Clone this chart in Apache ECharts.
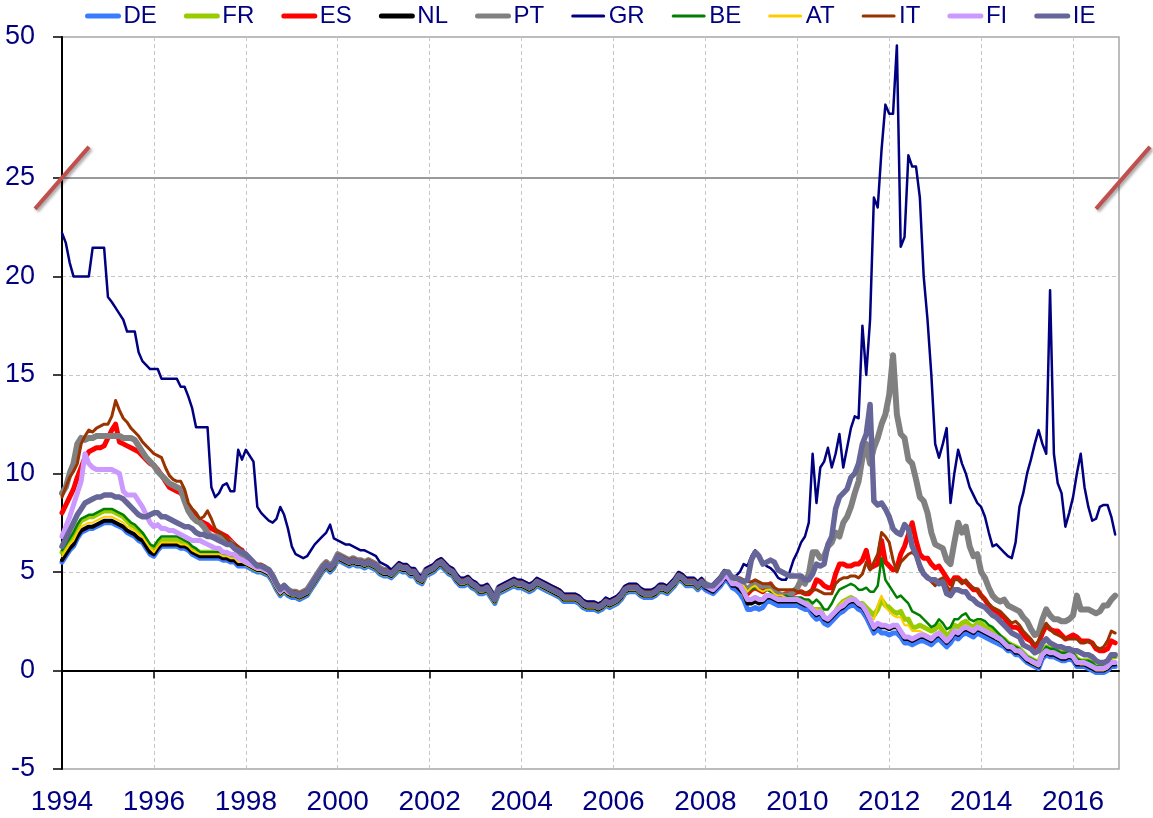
<!DOCTYPE html>
<html><head><meta charset="utf-8">
<script src="https://cdn.jsdelivr.net/npm/echarts@6/dist/echarts.min.js"></script>
<style>html,body{margin:0;padding:0;background:#fff}#c{width:1153px;height:818px}</style>
</head><body><div id="c"></div>
<script>
// ---------------- DATA (monthly, Jan 1994 .. Dec 2016) ----------------
const START_YEAR = 1994;
const xTickLabels = [1994,1996,1998,2000,2002,2004,2006,2008,2010,2012,2014,2016];
const yTickLabels = [-5,0,5,10,15,20,25,50];
const seriesNames = ['DE','FR','ES','NL','PT','GR','BE','AT','IT','FI','IE'];

const DE = [
5.5,5.8,6.1,6.3,6.7,7.0,7.1,7.2,7.2,7.3,7.4,7.5,
7.5,7.5,7.4,7.3,7.2,7.0,6.9,6.8,6.6,6.5,6.2,5.9,
5.8,6.1,6.3,6.3,6.3,6.3,6.3,6.2,6.2,6.1,5.9,5.8,
5.7,5.7,5.7,5.7,5.7,5.7,5.6,5.6,5.5,5.5,5.3,5.3,
5.3,5.2,5.1,5.0,5.0,4.9,4.8,4.5,4.1,3.8,4.0,3.8,
3.7,3.7,3.6,3.7,3.8,4.1,4.4,4.7,5.0,5.2,5.0,5.2,
5.6,5.5,5.4,5.3,5.4,5.3,5.3,5.2,5.3,5.2,5.1,4.9,
4.8,4.8,4.7,4.9,5.1,5.0,5.0,4.8,4.8,4.5,4.4,4.8,
4.9,5.0,5.2,5.3,5.1,4.9,4.8,4.5,4.3,4.3,4.4,4.2,
4.1,3.9,3.9,4.0,3.7,3.4,3.9,4.0,4.1,4.2,4.3,4.2,
4.2,4.1,4.0,4.1,4.3,4.2,4.1,4.0,3.9,3.8,3.7,3.5,
3.5,3.5,3.5,3.4,3.2,3.1,3.1,3.1,3.0,3.1,3.3,3.2,
3.3,3.4,3.6,3.9,4.0,4.0,4.0,3.8,3.7,3.7,3.7,3.8,
4.0,4.0,3.9,4.1,4.3,4.6,4.5,4.3,4.3,4.3,4.1,4.3,
4.1,4.0,3.9,4.1,4.3,4.6,4.5,4.2,4.1,3.9,3.6,3.1,
3.1,3.2,3.1,3.2,3.5,3.5,3.4,3.3,3.3,3.3,3.3,3.3,
3.3,3.2,3.1,3.1,2.8,2.6,2.7,2.4,2.3,2.5,2.7,2.9,
3.0,3.2,3.3,3.3,3.1,3.0,2.7,2.3,1.9,2.1,1.9,1.9,
1.8,1.9,1.9,1.7,1.4,1.4,1.3,1.4,1.5,1.5,1.4,1.3,
1.5,1.6,1.4,1.2,1.4,1.7,1.6,1.8,1.9,1.8,1.7,1.9,
1.8,1.7,1.6,1.5,1.4,1.3,1.2,1.0,1.0,0.8,0.8,0.6,
0.4,0.3,0.2,0.1,0.6,0.8,0.7,0.7,0.6,0.5,0.5,0.6,
0.5,0.2,0.2,0.2,0.1,0.0,-0.1,-0.1,-0.1,0.0,0.2,0.2];

const FR = [
6.0,6.3,6.6,6.9,7.3,7.6,7.7,7.8,7.8,7.9,8.0,8.1,
8.1,8.1,8.0,7.9,7.8,7.6,7.4,7.3,7.1,6.9,6.6,6.3,
6.1,6.4,6.6,6.6,6.6,6.6,6.6,6.5,6.5,6.4,6.2,6.1,
6.0,6.0,6.0,6.0,6.0,6.0,5.9,5.9,5.7,5.7,5.5,5.5,
5.4,5.3,5.2,5.1,5.1,5.0,4.9,4.6,4.2,3.9,4.1,3.9,
3.8,3.8,3.7,3.8,3.9,4.2,4.5,4.8,5.1,5.3,5.1,5.3,
5.7,5.6,5.5,5.4,5.5,5.4,5.4,5.3,5.4,5.3,5.2,5.0,
4.9,4.9,4.8,5.0,5.2,5.1,5.1,4.9,4.9,4.6,4.5,4.9,
5.0,5.1,5.3,5.4,5.2,5.0,4.9,4.6,4.4,4.4,4.5,4.3,
4.2,4.0,4.0,4.1,3.8,3.5,4.0,4.1,4.2,4.3,4.4,4.3,
4.3,4.2,4.1,4.2,4.4,4.3,4.2,4.1,4.0,3.9,3.8,3.6,
3.6,3.6,3.6,3.5,3.3,3.2,3.2,3.2,3.1,3.2,3.4,3.3,
3.4,3.5,3.7,4.0,4.1,4.1,4.1,3.9,3.8,3.8,3.8,3.9,
4.1,4.1,4.0,4.2,4.4,4.7,4.6,4.4,4.4,4.4,4.2,4.4,
4.3,4.2,4.1,4.3,4.5,4.8,4.7,4.4,4.4,4.3,3.9,3.5,
3.6,3.7,3.6,3.6,3.8,3.8,3.7,3.6,3.6,3.6,3.6,3.6,
3.5,3.5,3.4,3.4,3.1,3.1,3.1,2.7,2.6,2.8,3.0,3.3,
3.5,3.6,3.7,3.6,3.4,3.4,3.2,3.0,2.8,3.1,3.6,3.3,
3.2,3.0,2.9,3.0,2.6,2.6,2.2,2.2,2.3,2.2,2.1,2.0,
2.1,2.3,2.0,1.8,1.9,2.3,2.2,2.4,2.5,2.3,2.2,2.4,
2.4,2.2,2.1,2.0,1.8,1.7,1.6,1.4,1.3,1.2,1.1,0.9,
0.7,0.6,0.5,0.4,0.9,1.2,1.1,1.1,1.0,0.9,0.9,1.0,
0.9,0.6,0.5,0.5,0.5,0.4,0.2,0.2,0.2,0.3,0.7,0.7];

const ES = [
8.0,8.4,8.8,9.2,9.8,10.3,10.8,11.1,11.2,11.3,11.3,11.4,
11.8,12.2,12.5,11.6,11.5,11.4,11.3,11.2,11.1,10.9,10.7,10.5,
10.4,10.2,9.9,9.6,9.3,9.2,9.1,9.0,8.8,8.2,8.0,7.8,
7.6,7.5,7.4,7.2,7.1,7.0,6.9,6.8,6.6,6.4,6.2,6.1,
5.8,5.6,5.4,5.3,5.3,5.2,5.1,4.8,4.4,4.1,4.3,4.1,
3.9,3.9,3.8,3.9,4.0,4.3,4.6,4.9,5.2,5.4,5.2,5.4,
5.8,5.7,5.6,5.5,5.6,5.5,5.5,5.4,5.5,5.4,5.3,5.1,
5.0,5.0,4.9,5.1,5.3,5.2,5.2,5.0,5.0,4.7,4.6,5.0,
5.1,5.2,5.4,5.5,5.3,5.1,5.0,4.7,4.5,4.5,4.6,4.4,
4.3,4.1,4.1,4.2,3.9,3.6,4.1,4.2,4.3,4.4,4.5,4.4,
4.4,4.3,4.2,4.3,4.5,4.4,4.3,4.2,4.1,4.0,3.9,3.7,
3.7,3.7,3.7,3.6,3.4,3.3,3.3,3.3,3.2,3.3,3.5,3.4,
3.5,3.6,3.8,4.1,4.2,4.2,4.2,4.0,3.9,3.9,3.9,4.0,
4.2,4.2,4.1,4.3,4.5,4.8,4.7,4.5,4.5,4.5,4.3,4.5,
4.3,4.2,4.2,4.4,4.6,4.9,4.8,4.6,4.6,4.5,4.1,3.9,
4.1,4.2,4.1,4.0,4.2,4.4,4.1,3.9,3.8,3.9,3.9,3.9,
4.0,4.0,3.9,3.9,4.1,4.6,4.5,4.3,4.2,4.2,4.9,5.4,
5.4,5.3,5.3,5.4,5.4,5.6,6.1,5.2,5.3,5.4,6.6,5.5,
5.3,5.1,5.2,5.9,6.3,6.9,7.5,6.6,5.9,5.7,5.7,5.4,
5.2,5.3,5.0,4.7,4.4,4.7,4.7,4.5,4.5,4.3,4.1,4.1,
3.8,3.6,3.3,3.1,3.0,2.8,2.7,2.4,2.2,2.2,2.1,1.8,
1.6,1.5,1.2,1.4,1.9,2.3,2.1,2.0,2.0,1.8,1.6,1.7,
1.8,1.7,1.5,1.5,1.5,1.4,1.1,1.0,1.0,1.1,1.5,1.4];

const NL = [
5.6,5.9,6.2,6.4,6.8,7.1,7.2,7.3,7.3,7.4,7.5,7.6,
7.6,7.6,7.5,7.4,7.3,7.1,7.0,6.9,6.7,6.6,6.3,6.0,
5.9,6.2,6.4,6.4,6.4,6.4,6.4,6.3,6.3,6.2,6.0,5.9,
5.8,5.8,5.8,5.8,5.8,5.8,5.7,5.7,5.6,5.6,5.4,5.4,
5.4,5.3,5.2,5.1,5.1,5.0,4.9,4.6,4.2,3.9,4.1,3.9,
3.8,3.8,3.7,3.8,3.9,4.2,4.5,4.8,5.1,5.3,5.1,5.3,
5.7,5.6,5.5,5.4,5.5,5.4,5.4,5.3,5.4,5.3,5.2,5.0,
4.9,4.9,4.8,5.0,5.2,5.1,5.1,4.9,4.9,4.6,4.5,4.9,
5.0,5.1,5.3,5.4,5.2,5.0,4.9,4.6,4.4,4.4,4.5,4.3,
4.2,4.0,4.0,4.1,3.8,3.5,4.0,4.1,4.2,4.3,4.4,4.3,
4.3,4.2,4.1,4.2,4.4,4.3,4.2,4.1,4.0,3.9,3.8,3.6,
3.6,3.6,3.6,3.5,3.3,3.2,3.2,3.2,3.1,3.2,3.4,3.3,
3.4,3.5,3.7,4.0,4.1,4.1,4.1,3.9,3.8,3.8,3.8,3.9,
4.1,4.1,4.0,4.2,4.4,4.7,4.6,4.4,4.4,4.4,4.2,4.4,
4.2,4.1,4.0,4.2,4.4,4.7,4.6,4.3,4.3,4.1,3.9,3.4,
3.4,3.5,3.4,3.5,3.7,3.7,3.6,3.5,3.5,3.5,3.5,3.5,
3.5,3.4,3.3,3.3,3.0,2.8,2.9,2.6,2.5,2.7,2.9,3.1,
3.2,3.4,3.5,3.5,3.3,3.2,2.9,2.5,2.1,2.3,2.2,2.2,
2.1,2.2,2.2,1.9,1.6,1.6,1.5,1.6,1.7,1.7,1.6,1.5,
1.7,1.8,1.6,1.4,1.6,1.9,1.8,2.0,2.1,2.0,1.9,2.1,
2.0,1.9,1.8,1.7,1.6,1.5,1.3,1.1,1.1,0.9,0.9,0.7,
0.5,0.4,0.3,0.2,0.7,0.9,0.8,0.8,0.7,0.6,0.6,0.7,
0.6,0.3,0.3,0.3,0.2,0.1,0.0,0.0,0.0,0.1,0.3,0.3];

const PT = [
9.0,9.3,10.0,10.5,11.5,11.8,11.7,11.8,11.8,11.9,11.9,11.9,
11.9,11.9,11.9,11.9,11.8,11.8,11.8,11.7,11.4,11.1,10.8,10.6,
10.4,10.1,9.9,9.7,9.5,9.4,9.3,9.2,8.6,8.1,7.8,7.6,
7.5,7.3,7.0,6.8,6.8,6.8,6.7,6.6,6.5,6.3,6.0,5.9,
5.8,5.6,5.4,5.3,5.3,5.2,5.1,4.8,4.4,4.1,4.3,4.1,
4.0,4.0,3.9,4.0,4.1,4.4,4.7,5.0,5.3,5.5,5.3,5.5,
5.9,5.8,5.7,5.6,5.7,5.6,5.6,5.5,5.6,5.5,5.4,5.2,
5.1,5.1,5.0,5.2,5.4,5.3,5.3,5.1,5.1,4.8,4.7,5.1,
5.2,5.3,5.5,5.6,5.4,5.2,5.1,4.8,4.6,4.6,4.7,4.5,
4.4,4.2,4.2,4.3,4.0,3.7,4.2,4.3,4.4,4.5,4.6,4.5,
4.5,4.4,4.3,4.4,4.6,4.5,4.4,4.3,4.2,4.1,4.0,3.8,
3.8,3.8,3.8,3.7,3.5,3.4,3.4,3.4,3.3,3.4,3.6,3.5,
3.6,3.7,3.9,4.2,4.3,4.3,4.3,4.1,4.0,4.0,4.0,4.1,
4.3,4.3,4.2,4.4,4.6,4.9,4.8,4.6,4.6,4.6,4.4,4.6,
4.4,4.3,4.3,4.5,4.7,5.0,4.9,4.6,4.6,4.5,4.3,4.1,
4.3,4.4,4.3,4.3,4.3,4.3,4.1,3.9,3.8,3.8,3.8,4.0,
4.2,4.6,4.4,4.9,6.0,6.0,5.7,5.8,6.3,6.5,7.0,6.8,
7.5,7.8,8.3,9.0,9.6,10.8,11.5,10.5,11.3,11.8,12.5,13.0,
14.0,16.0,13.0,12.0,11.8,10.7,10.5,9.7,8.8,8.6,8.0,7.0,
6.4,6.3,6.2,5.6,5.4,6.5,7.5,7.0,7.3,6.3,5.8,5.9,
5.0,4.7,4.2,3.8,3.6,3.5,3.6,3.3,3.2,3.1,3.0,2.7,
2.5,2.1,1.8,1.9,2.6,3.1,2.8,2.6,2.6,2.5,2.5,2.6,
2.8,3.8,3.1,3.1,3.1,3.0,2.9,3.0,3.3,3.3,3.6,3.8];

const GR = [
22.2,21.7,20.7,20.0,20.0,20.0,20.0,20.0,21.45,21.45,21.45,21.45,
18.95,18.7,18.4,18.1,17.8,17.2,17.2,17.2,16.15,15.7,15.5,15.3,
15.3,15.3,14.8,14.8,14.8,14.8,14.8,14.4,14.4,13.9,13.3,12.35,
12.35,12.35,12.35,9.3,8.8,9.0,9.4,9.5,9.1,9.1,11.2,10.7,
11.2,10.9,10.6,8.3,8.0,7.8,7.6,7.5,7.7,8.3,7.9,7.2,
6.3,5.9,5.8,5.7,5.8,6.1,6.4,6.6,6.8,7.0,7.4,6.7,
6.6,6.5,6.4,6.4,6.3,6.2,6.1,6.1,6.0,5.9,5.8,5.5,
5.4,5.3,5.1,5.3,5.5,5.4,5.4,5.2,5.2,4.9,4.8,5.2,
5.3,5.4,5.6,5.7,5.5,5.3,5.2,4.9,4.7,4.7,4.8,4.6,
4.5,4.3,4.3,4.4,4.1,3.8,4.3,4.4,4.5,4.6,4.7,4.6,
4.6,4.5,4.4,4.5,4.7,4.6,4.5,4.4,4.3,4.2,4.1,3.9,
3.9,3.9,3.9,3.8,3.6,3.5,3.5,3.5,3.4,3.5,3.7,3.6,
3.7,3.8,4.0,4.3,4.4,4.4,4.4,4.2,4.1,4.1,4.1,4.2,
4.4,4.4,4.3,4.5,4.7,5.0,4.9,4.7,4.7,4.7,4.5,4.7,
4.4,4.3,4.4,4.6,4.8,5.1,5.0,4.8,4.8,5.0,5.4,5.3,
5.8,6.1,5.9,5.5,5.3,5.2,5.0,4.7,4.6,4.6,5.0,5.6,
6.0,6.5,6.8,7.5,11.0,8.5,10.3,10.6,11.3,10.3,11.0,12.0,
10.3,11.3,12.3,12.9,12.8,17.5,15.0,17.8,24.0,23.5,30.0,38.0,
36.4,36.4,48.5,21.5,22.0,29.0,27.0,27.0,24.0,20.0,17.8,15.0,
11.5,10.8,11.5,12.3,8.5,10.0,11.2,10.5,10.0,9.3,8.9,8.5,
8.3,7.8,7.0,6.3,6.4,6.2,6.0,5.8,5.7,6.5,8.3,9.0,
10.0,10.7,11.5,12.2,11.5,11.0,19.3,11.0,9.5,9.0,7.3,8.0,
8.8,10.0,11.0,9.3,8.3,7.6,7.7,8.3,8.4,8.4,7.8,6.9];

const BE = [
6.1,6.4,6.7,7.0,7.4,7.7,7.8,7.9,7.9,8.0,8.1,8.2,
8.2,8.2,8.1,8.0,7.9,7.7,7.5,7.4,7.2,7.0,6.7,6.4,
6.3,6.6,6.8,6.8,6.8,6.8,6.8,6.7,6.6,6.5,6.3,6.2,
6.0,6.0,6.0,6.0,6.0,6.0,5.9,5.9,5.8,5.8,5.6,5.6,
5.5,5.4,5.3,5.2,5.2,5.1,5.0,4.7,4.3,4.0,4.2,4.0,
3.9,3.9,3.8,3.9,4.0,4.3,4.6,4.9,5.2,5.4,5.2,5.4,
5.8,5.7,5.6,5.5,5.6,5.5,5.5,5.4,5.5,5.4,5.3,5.1,
5.0,5.0,4.9,5.1,5.3,5.2,5.2,5.0,5.0,4.7,4.6,5.0,
5.1,5.2,5.4,5.5,5.3,5.1,5.0,4.7,4.5,4.5,4.6,4.4,
4.3,4.1,4.1,4.2,3.9,3.6,4.1,4.2,4.3,4.4,4.5,4.4,
4.4,4.3,4.2,4.3,4.5,4.4,4.3,4.2,4.1,4.0,3.9,3.7,
3.7,3.7,3.7,3.6,3.4,3.3,3.3,3.3,3.2,3.3,3.5,3.4,
3.5,3.6,3.8,4.1,4.2,4.2,4.2,4.0,3.9,3.9,3.9,4.0,
4.2,4.2,4.1,4.3,4.5,4.8,4.7,4.5,4.5,4.5,4.3,4.5,
4.4,4.3,4.2,4.4,4.6,4.9,4.8,4.6,4.6,4.5,4.3,4.0,
4.1,4.2,4.1,4.0,4.1,4.0,3.9,3.8,3.7,3.8,3.7,3.7,
3.7,3.7,3.6,3.6,3.4,3.6,3.4,3.1,3.1,3.4,3.8,4.1,
4.2,4.3,4.4,4.3,4.1,4.1,4.2,4.0,4.0,4.3,5.7,4.6,
4.3,4.0,3.7,3.8,3.6,3.4,3.0,2.9,2.8,2.6,2.4,2.2,
2.3,2.6,2.4,2.1,2.2,2.6,2.6,2.8,2.9,2.6,2.5,2.6,
2.6,2.5,2.3,2.2,2.0,1.8,1.6,1.4,1.3,1.2,1.1,0.9,
0.7,0.6,0.5,0.4,0.9,1.2,1.1,1.1,1.0,0.9,0.9,1.0,
0.9,0.6,0.5,0.5,0.5,0.4,0.2,0.2,0.2,0.3,0.7,0.7];

const AT = [
5.8,6.1,6.4,6.6,7.0,7.3,7.4,7.5,7.5,7.6,7.7,7.8,
7.8,7.8,7.7,7.6,7.5,7.3,7.2,7.1,6.9,6.8,6.5,6.2,
6.0,6.3,6.5,6.5,6.5,6.5,6.5,6.4,6.4,6.3,6.1,6.0,
5.9,5.9,5.9,5.9,5.9,5.9,5.8,5.8,5.7,5.7,5.5,5.5,
5.4,5.3,5.2,5.1,5.1,5.0,4.9,4.6,4.2,3.9,4.1,3.9,
3.8,3.8,3.7,3.8,3.9,4.2,4.5,4.8,5.1,5.3,5.1,5.3,
5.7,5.6,5.5,5.4,5.5,5.4,5.4,5.3,5.4,5.3,5.2,5.0,
4.9,4.9,4.8,5.0,5.2,5.1,5.1,4.9,4.9,4.6,4.5,4.9,
5.0,5.1,5.3,5.4,5.2,5.0,4.9,4.6,4.4,4.4,4.5,4.3,
4.2,4.0,4.0,4.1,3.8,3.5,4.0,4.1,4.2,4.3,4.4,4.3,
4.3,4.2,4.1,4.2,4.4,4.3,4.2,4.1,4.0,3.9,3.8,3.6,
3.6,3.6,3.6,3.5,3.3,3.2,3.2,3.2,3.1,3.2,3.4,3.3,
3.4,3.5,3.7,4.0,4.1,4.1,4.1,3.9,3.8,3.8,3.8,3.9,
4.1,4.1,4.0,4.2,4.4,4.7,4.6,4.4,4.4,4.4,4.2,4.4,
4.3,4.2,4.1,4.3,4.5,4.8,4.8,4.5,4.5,4.5,4.3,4.0,
4.2,4.3,4.1,4.0,4.1,4.1,3.9,3.8,3.8,3.7,3.6,3.6,
3.6,3.5,3.4,3.4,3.1,3.1,3.0,2.7,2.6,2.8,3.1,3.3,
3.5,3.6,3.7,3.6,3.4,3.3,3.0,2.7,2.6,3.3,3.8,3.2,
3.0,2.8,2.7,2.7,2.3,2.3,2.0,2.0,2.0,1.9,1.8,1.7,
1.8,2.0,1.8,1.6,1.7,2.0,2.0,2.2,2.3,2.2,2.1,2.2,
2.2,2.0,1.9,1.8,1.6,1.5,1.4,1.2,1.1,1.0,0.9,0.8,
0.6,0.4,0.3,0.2,0.7,1.0,0.9,0.9,0.8,0.7,0.7,0.8,
0.7,0.4,0.3,0.3,0.3,0.2,0.0,0.0,0.0,0.1,0.5,0.5];

const IT = [
8.8,9.3,9.8,10.1,10.5,11.5,11.9,12.2,12.1,12.3,12.4,12.5,
12.5,12.9,13.7,13.2,12.8,12.6,12.3,12.1,11.9,11.6,11.4,11.2,
11.0,10.9,10.8,10.3,9.9,9.7,9.6,9.6,9.2,8.5,8.2,8.0,
7.7,7.8,8.1,7.7,7.2,7.0,6.9,6.7,6.5,6.4,6.3,6.1,
5.9,5.7,5.5,5.4,5.4,5.3,5.1,4.8,4.4,4.2,4.3,4.1,
4.0,4.0,3.9,4.0,4.1,4.4,4.7,5.0,5.3,5.5,5.3,5.5,
5.9,5.8,5.7,5.6,5.7,5.6,5.6,5.5,5.6,5.5,5.4,5.2,
5.1,5.1,5.0,5.2,5.4,5.3,5.3,5.1,5.1,4.8,4.7,5.1,
5.2,5.3,5.5,5.6,5.4,5.2,5.1,4.8,4.6,4.6,4.7,4.5,
4.4,4.2,4.2,4.3,4.0,3.7,4.2,4.3,4.4,4.5,4.6,4.5,
4.5,4.4,4.3,4.4,4.6,4.5,4.4,4.3,4.2,4.1,4.0,3.8,
3.8,3.8,3.8,3.7,3.5,3.4,3.4,3.4,3.3,3.4,3.6,3.5,
3.6,3.7,3.9,4.2,4.3,4.3,4.3,4.1,4.0,4.0,4.0,4.1,
4.3,4.3,4.2,4.4,4.6,4.9,4.8,4.6,4.6,4.6,4.4,4.6,
4.4,4.3,4.3,4.5,4.7,5.0,4.9,4.7,4.7,4.7,4.6,4.5,
4.5,4.6,4.5,4.4,4.4,4.4,4.2,4.1,4.1,4.1,4.1,4.1,
4.0,4.0,3.9,4.0,4.1,4.1,4.0,3.9,3.9,3.9,4.4,4.6,
4.7,4.7,4.8,4.8,4.7,4.9,5.5,5.1,5.5,5.9,7.0,6.8,
6.5,5.6,5.0,5.5,5.7,5.9,6.0,5.8,5.1,4.9,4.8,4.5,
4.3,4.6,4.7,4.3,4.0,4.6,4.6,4.4,4.6,4.3,4.2,4.1,
3.8,3.6,3.4,3.2,3.1,3.0,2.8,2.6,2.4,2.5,2.3,2.0,
1.8,1.6,1.3,1.5,2.0,2.4,2.1,1.9,1.8,1.7,1.6,1.6,
1.6,1.6,1.4,1.4,1.5,1.4,1.2,1.1,1.2,1.5,2.0,1.9];

const FI = [
6.8,7.3,7.8,8.4,9.0,9.6,11.0,10.5,10.3,10.2,10.2,10.2,
10.2,10.2,10.1,10.0,9.1,8.9,8.9,8.9,8.6,8.3,7.9,7.5,
7.3,7.4,7.2,7.2,7.1,7.1,7.0,6.9,6.8,6.7,6.6,6.6,
6.6,6.5,6.4,6.3,6.2,6.2,6.0,6.0,5.9,5.9,5.7,5.6,
5.5,5.4,5.3,5.2,5.2,5.1,5.0,4.7,4.3,4.0,4.2,4.0,
3.9,3.9,3.8,3.9,4.0,4.3,4.6,4.9,5.2,5.4,5.2,5.4,
5.8,5.7,5.6,5.5,5.6,5.5,5.5,5.4,5.5,5.4,5.3,5.1,
5.0,5.0,4.9,5.1,5.3,5.2,5.2,5.0,5.0,4.7,4.6,5.0,
5.1,5.2,5.4,5.5,5.3,5.1,5.0,4.7,4.5,4.5,4.6,4.4,
4.3,4.1,4.1,4.2,3.9,3.6,4.1,4.2,4.3,4.4,4.5,4.4,
4.4,4.3,4.2,4.3,4.5,4.4,4.3,4.2,4.1,4.0,3.9,3.7,
3.7,3.7,3.7,3.6,3.4,3.3,3.3,3.3,3.2,3.3,3.5,3.4,
3.5,3.6,3.8,4.1,4.2,4.2,4.2,4.0,3.9,3.9,3.9,4.0,
4.2,4.2,4.1,4.3,4.5,4.8,4.7,4.5,4.5,4.5,4.3,4.5,
4.3,4.2,4.1,4.3,4.5,4.8,4.7,4.4,4.4,4.3,4.0,3.6,
3.6,3.7,3.6,3.6,3.8,3.8,3.7,3.6,3.6,3.6,3.6,3.6,
3.6,3.5,3.4,3.3,3.1,2.9,3.0,2.7,2.6,2.8,3.0,3.2,
3.3,3.5,3.6,3.6,3.4,3.3,3.0,2.6,2.2,2.4,2.3,2.3,
2.2,2.3,2.3,2.0,1.7,1.7,1.6,1.7,1.8,1.8,1.7,1.6,
1.8,1.9,1.7,1.5,1.7,2.0,1.9,2.1,2.2,2.1,2.0,2.2,
2.1,2.0,1.9,1.8,1.7,1.6,1.4,1.2,1.2,1.0,1.0,0.8,
0.6,0.5,0.4,0.3,0.8,1.0,0.9,0.9,0.8,0.7,0.7,0.8,
0.7,0.4,0.4,0.4,0.3,0.2,0.1,0.1,0.1,0.2,0.4,0.4];

const IE = [
6.3,6.7,7.1,7.5,7.9,8.2,8.5,8.6,8.7,8.8,8.8,8.9,
8.9,8.9,8.8,8.8,8.7,8.5,8.3,8.1,7.9,7.8,7.8,7.9,
8.0,8.0,7.8,7.8,7.7,7.6,7.5,7.4,7.3,7.3,7.2,7.0,
6.9,6.9,6.8,6.8,6.7,6.6,6.5,6.4,6.4,6.2,6.1,6.0,
5.9,5.7,5.5,5.3,5.3,5.2,5.1,4.8,4.4,4.1,4.3,4.1,
3.9,3.9,3.8,3.9,4.0,4.3,4.6,4.9,5.2,5.4,5.2,5.4,
5.8,5.7,5.6,5.5,5.6,5.5,5.5,5.4,5.5,5.4,5.3,5.1,
5.0,5.0,4.9,5.1,5.3,5.2,5.2,5.0,5.0,4.7,4.6,5.0,
5.1,5.2,5.4,5.5,5.3,5.1,5.0,4.7,4.5,4.5,4.6,4.4,
4.3,4.1,4.1,4.2,3.9,3.6,4.1,4.2,4.3,4.4,4.5,4.4,
4.4,4.3,4.2,4.3,4.5,4.4,4.3,4.2,4.1,4.0,3.9,3.7,
3.7,3.7,3.7,3.6,3.4,3.3,3.3,3.3,3.2,3.3,3.5,3.4,
3.5,3.6,3.8,4.1,4.2,4.2,4.2,4.0,3.9,3.9,3.9,4.0,
4.2,4.2,4.1,4.3,4.5,4.8,4.7,4.5,4.5,4.5,4.3,4.5,
4.3,4.3,4.3,4.5,4.7,5.0,5.0,4.7,4.7,4.6,4.5,4.6,
5.6,6.0,5.8,5.4,5.5,5.6,5.5,5.1,5.0,4.9,4.8,4.8,
4.8,4.8,4.6,4.6,4.9,5.4,5.3,5.4,6.4,6.8,8.2,8.8,
9.0,9.2,9.8,10.0,10.5,11.5,12.0,13.5,8.6,8.4,8.5,8.2,
7.8,7.2,7.0,6.9,7.4,7.2,6.3,5.9,5.3,4.9,4.7,4.6,
4.6,4.4,4.5,3.9,3.8,4.1,4.1,4.0,4.0,3.7,3.6,3.4,
3.3,3.2,3.0,2.8,2.7,2.5,2.3,2.1,1.9,1.8,1.7,1.3,
1.2,1.1,0.9,1.0,1.4,1.6,1.4,1.3,1.2,1.2,1.1,1.1,
1.0,1.0,0.9,0.8,0.8,0.7,0.5,0.4,0.4,0.5,0.8,0.8];

// ---------------- STYLE ----------------
const FONT = '"Liberation Sans", Arial, sans-serif';
const NAVY = '#000080';
const styles = {
  DE:{color:'#3b7cff', width:5},
  FR:{color:'#99cc00', width:5},
  ES:{color:'#ff0000', width:5},
  NL:{color:'#000000', width:4},
  PT:{color:'#808080', width:6},
  GR:{color:'#000080', width:2.5},
  BE:{color:'#008000', width:2.5},
  AT:{color:'#ffcc00', width:2},
  IT:{color:'#993300', width:3},
  FI:{color:'#cc99ff', width:5},
  IE:{color:'#666699', width:5.5}
};
const legendWidth = {DE:5,FR:5,ES:5,NL:5,PT:5,GR:3,BE:3,AT:3,IT:3,FI:5,IE:5};

// broken axis: 25..50 compressed
const BREAK = 25, TOP = 50, K = 7.15 / 25;
const tf = v => v <= BREAK ? v : BREAK + (v - BREAK) * K;
const inv = v => v <= BREAK ? v : BREAK + (v - BREAK) / K;
const Y_MIN = -5, Y_MAX = tf(TOP);

const dataMap = {DE,FR,ES,NL,PT,GR,BE,AT,IT,FI,IE};
const timeOf = i => START_YEAR + i / 12;

const gridC = '#c6c6c6', none = 'rgba(0,0,0,0)';
const ySplitColors = yTickLabels.map(v => (v === Y_MIN || v >= BREAK) ? none : gridC);
const xSplitColors = xTickLabels.map((v, i) => i === 0 ? none : gridC);

const chart = echarts.init(document.getElementById('c'), null, {renderer:'canvas'});
const series = seriesNames.map((n, si) => {
  const s = {
    name: n, type: 'line', symbol: 'none', showSymbol: false, animation: false,
    lineStyle: {color: styles[n].color, width: styles[n].width, cap: 'round', join: 'round'},
    itemStyle: {color: styles[n].color},
    emphasis: {disabled: true},
    data: dataMap[n].map((v, i) => [timeOf(i), tf(v)])
  };
  if (si === 0) {
    s.markLine = {silent: true, symbol: 'none', animation: false, z: 1,
      label: {show: false}, lineStyle: {color: '#9a9a9a', width: 2, type: 'solid'},
      data: [{yAxis: BREAK}]};
  }
  return s;
});

chart.setOption({
  animation: false,
  backgroundColor: '#fff',
  grid: {left: 62, right: 34, top: 37, bottom: 49, show: true, borderColor: '#a6a6a6', borderWidth: 1.5,
         outerBoundsMode: 'none', containLabel: false},
  legend: {
    left: 80, top: -1, itemWidth: 31, itemHeight: 14, itemGap: 27,
    itemStyle: {opacity: 0},
    textStyle: {fontSize: 24, color: NAVY, fontFamily: FONT},
    data: seriesNames.map(n => ({name: n, lineStyle: {width: legendWidth[n], cap: 'round'}}))
  },
  xAxis: {
    type: 'value', min: START_YEAR, max: 2017,
    axisLine: {show: true, lineStyle: {color: '#000', width: 2}},
    axisTick: {show: true, length: 8, customValues: xTickLabels, lineStyle: {color: '#000', width: 1.5}},
    axisLabel: {customValues: xTickLabels, formatter: v => String(v), color: NAVY, fontSize: 28, fontFamily: FONT, margin: 19},
    splitLine: {show: true, lineStyle: {color: xSplitColors, type: [4, 3], width: 1}}
  },
  yAxis: {
    type: 'value', min: Y_MIN, max: Y_MAX,
    axisLine: {show: true, lineStyle: {color: '#000', width: 2}},
    axisTick: {show: true, length: 9, customValues: yTickLabels.map(tf), lineStyle: {color: '#000', width: 1.5}},
    axisLabel: {customValues: yTickLabels.map(tf), formatter: v => String(Math.round(inv(v))), color: NAVY, fontSize: 27, fontFamily: FONT, margin: 27},
    splitLine: {show: true, lineStyle: {color: ySplitColors, type: [4, 3], width: 1}}
  },
  series: series
});

// axis-break marks, anchored on the 25 level via the chart's own scales
const pL = chart.convertToPixel({gridIndex: 0}, [START_YEAR, BREAK]);
const pR = chart.convertToPixel({gridIndex: 0}, [2017, BREAK]);
const mark = (cx, cy) => ({
  type: 'line', z: 100, silent: true,
  shape: {x1: cx - 27, y1: cy + 31, x2: cx + 27, y2: cy - 31},
  style: {stroke: '#c0504d', lineWidth: 4, shadowBlur: 3, shadowColor: 'rgba(0,0,0,0.35)', shadowOffsetX: 2, shadowOffsetY: 2}
});
chart.setOption({graphic: [mark(pL[0], pL[1]), mark(pR[0] + 4, pR[1])]});
</script>
</body></html>
